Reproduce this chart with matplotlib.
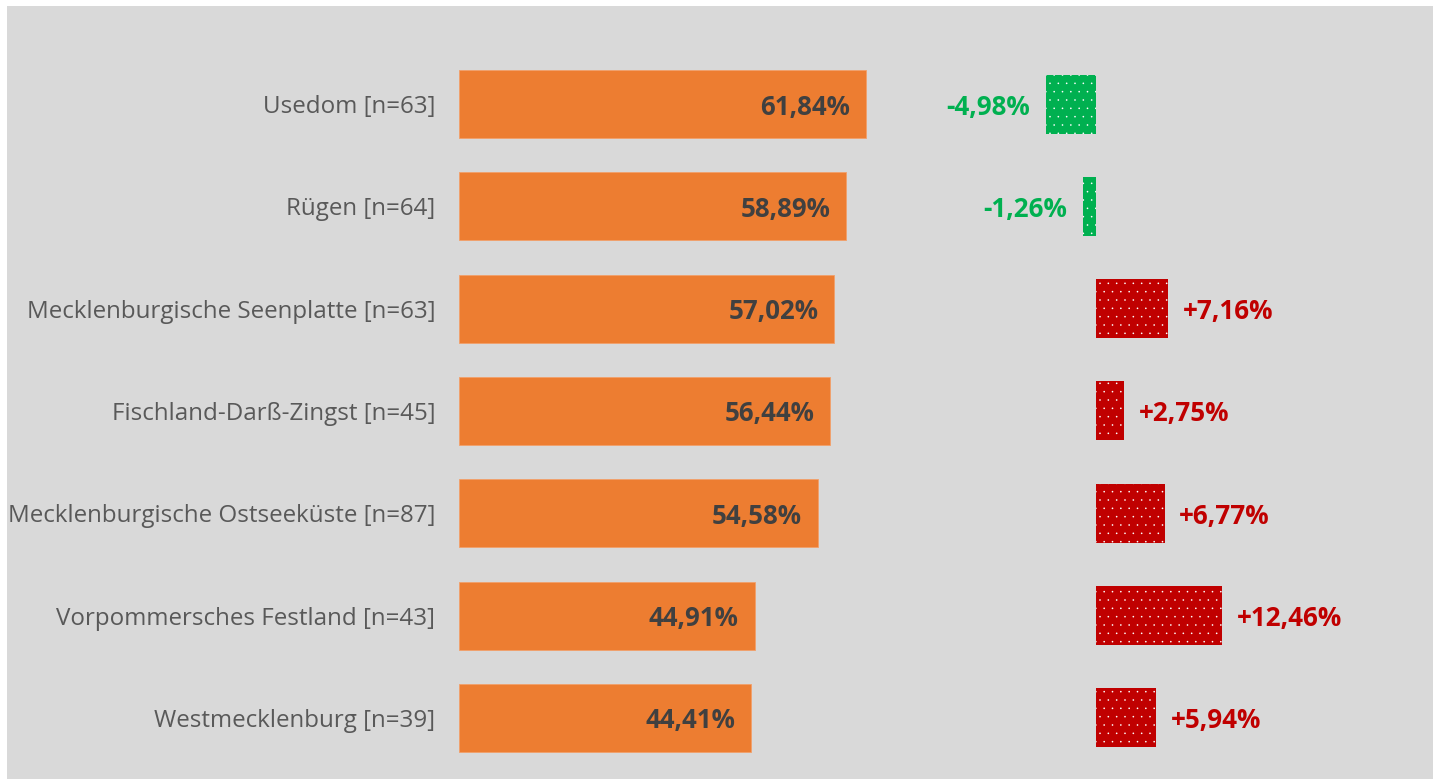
import matplotlib
matplotlib.use("Agg")
import matplotlib.pyplot as plt
from matplotlib.patches import Rectangle

# ---- data ----
regions = ["Usedom", "Rügen", "Mecklenburgische Seenplatte", "Fischland-Darß-Zingst",
           "Mecklenburgische Ostseeküste", "Vorpommersches Festland", "Westmecklenburg"]
n_values = [63, 64, 63, 45, 87, 43, 39]
shares = [61.84, 58.89, 57.02, 56.44, 54.58, 44.91, 44.41]
changes = [-4.98, -1.26, 7.16, 2.75, 6.77, 12.46, 5.94]

ORANGE = "#ED7D31"
GREEN = "#00B050"
RED = "#C00000"
BG = "#D9D9D9"
LABEL_GRAY = "#595959"
VALUE_DARK = "#404040"

plt.rcParams["font.family"] = ["Open Sans", "DejaVu Sans"]

W, H = 1433, 779
fig = plt.figure(figsize=(W / 100, H / 100), dpi=100, facecolor="white")
fig.patches.append(Rectangle((7 / W, 0), 1 - 7 / W, (H - 6) / H, transform=fig.transFigure,
                             facecolor=BG, edgecolor="none", zorder=-10))

def fx(px):
    return px / W

# vertical mapping: bar centres at 104 + 102.33*i pixels from top
c0, step = 104.0, 102.33
ylim = ((H - c0) / step, -c0 / step)

# main axes: zero at 459 px, 6.58 px per %
x0_main, sc_main, right_main = 459, 6.58, 1000
ax1 = fig.add_axes([fx(x0_main), 0, fx(right_main - x0_main), 1])
ax1.set_xlim(0, (right_main - x0_main) / sc_main)
ax1.set_ylim(*ylim)
ax1.set_facecolor("none")

# change axes: zero at 1096 px, 10.12 px per %
x0_ch, sc_ch = 1096, 10.12
ax2 = fig.add_axes([fx(right_main), 0, fx(W - right_main), 1])
ax2.set_xlim((right_main - x0_ch) / sc_ch, (W - x0_ch) / sc_ch)
ax2.set_ylim(*ylim)
ax2.set_facecolor("none")

ypos = list(range(len(regions)))
labels = [f"{r} [n={n}]" for r, n in zip(regions, n_values)]

ax1.barh(ypos, shares, height=68 / step, color=ORANGE, edgecolor="#F2A06A", linewidth=0.6)
for y, v in zip(ypos, shares):
    ax1.annotate(f"{v:.2f}%".replace(".", ","), xy=(v, y), xytext=(-11.5, 0),
                 textcoords="offset points", ha="right", va="center_baseline",
                 fontsize=18.6, fontweight="bold", color=VALUE_DARK)

ax1.set_yticks(ypos)
ax1.set_yticklabels(labels, fontsize=17.35, color=LABEL_GRAY)
ax1.tick_params(axis="y", length=0, pad=17)
ax1.tick_params(axis="x", bottom=False, labelbottom=False)

plt.rcParams["hatch.linewidth"] = 0.0
for y, c in zip(ypos, changes):
    col = GREEN if c < 0 else RED
    ax2.barh(y, c, height=59 / step, color=col, edgecolor="white", linewidth=0, hatch="..")
    txt = (f"{c:+.2f}%").replace(".", ",")
    if c < 0:
        ax2.annotate(txt, xy=(c, y), xytext=(-11.5, 0), textcoords="offset points",
                     ha="right", va="center_baseline", fontsize=18.7, fontweight="bold", color=col)
    else:
        ax2.annotate(txt, xy=(c, y), xytext=(10.5, 0), textcoords="offset points",
                     ha="left", va="center_baseline", fontsize=18.7, fontweight="bold", color=col)

ax2.set_yticks([])
ax2.tick_params(axis="x", bottom=False, labelbottom=False)

for ax in (ax1, ax2):
    for s in ax.spines.values():
        s.set_visible(False)

fig.savefig("out.png", dpi=100, facecolor=fig.get_facecolor())
